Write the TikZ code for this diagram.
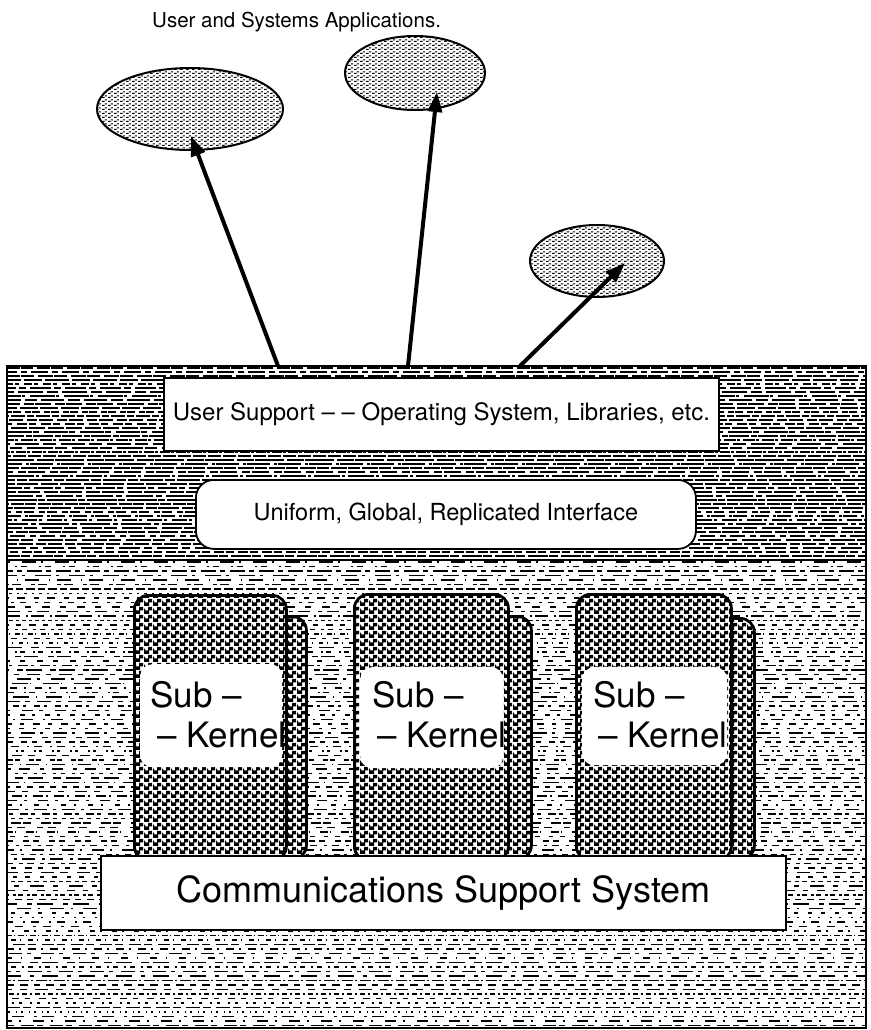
\documentclass[tikz,border=0pt]{standalone}
\usepackage{fontspec}
\setmainfont{TeX Gyre Heros}
\usetikzlibrary{arrows.meta,shapes.geometric,patterns}

% woven fill of the sub-kernel cards
\pgfdeclarepatternformonly{kernelweave}{\pgfqpoint{0pt}{0pt}}{\pgfqpoint{9pt}{8pt}}{\pgfqpoint{9pt}{8pt}}{%
  \pgfpathrectangle{\pgfqpoint{0pt}{0pt}}{\pgfqpoint{5.6pt}{4pt}}%
  \pgfpathrectangle{\pgfqpoint{4.5pt}{4pt}}{\pgfqpoint{4.5pt}{4pt}}%
  \pgfpathrectangle{\pgfqpoint{0pt}{4pt}}{\pgfqpoint{1.2pt}{2pt}}%
  \pgfusepath{fill}}
% stipple of the application blobs
\pgfdeclarepatternformonly{stipple}{\pgfqpoint{0pt}{0pt}}{\pgfqpoint{6pt}{4pt}}{\pgfqpoint{6pt}{4pt}}{%
  \pgfpathrectangle{\pgfqpoint{0pt}{0pt}}{\pgfqpoint{3pt}{1.3pt}}%
  \pgfpathrectangle{\pgfqpoint{3.4pt}{2pt}}{\pgfqpoint{2.4pt}{1.3pt}}%
  \pgfusepath{fill}}

\begin{document}
\begin{tikzpicture}[x=1pt,y=-1pt,
  appblob/.style={ellipse, draw, line width=2pt, inner sep=0pt,
    preaction={fill=white}, pattern=stipple, pattern color=black},
  layer/.style={inner sep=0pt, anchor=north west},
  plainbox/.style={draw, line width=1.8pt, fill=white, inner sep=0pt, anchor=north west},
  card/.style={draw, line width=2.8pt, rounded corners=14pt, inner sep=0pt,
    anchor=north west, preaction={fill=white}, pattern=kernelweave},
  cardlabel/.style={fill=white, rounded corners=12pt, inner sep=0pt, anchor=north west},
  kerneltext/.style={anchor=base west, inner sep=0pt, font=\fontsize{35}{40}\selectfont},
  uparrow/.style={line width=4pt, -{Triangle[length=20pt,width=14pt]}},
  bandstroke/.style={line width=2.6pt},
  basestroke/.style={line width=1.4pt},
]
\useasboundingbox (0,0) rectangle (870,1030);

% title
\node[anchor=west, inner sep=0pt, font=\fontsize{20.5}{24}\selectfont] (ttl) at (152,22)
  {User and Systems Applications.};

% the two layers
\node[layer, minimum width=859pt, minimum height=194pt] (band) at (7,366) {};
\node[layer, minimum width=859pt, minimum height=468pt] (base) at (7,560) {};

% dense hatching of the upper layer
\begin{scope}
  \clip (band.north west) rectangle (band.south east);
  \pgfmathsetseed{42}
  \foreach \k in {0,...,48}{
    \pgfmathtruncatemacro\da{random(6,30)}
    \pgfmathtruncatemacro\ga{random(1,4)}
    \pgfmathtruncatemacro\db{random(3,18)}
    \pgfmathtruncatemacro\gb{random(1,5)}
    \pgfmathtruncatemacro\ph{random(0,40)}
    \draw[bandstroke, dash pattern=on \da pt off \ga pt on \db pt off \gb pt, dash phase=\ph pt]
      (band.north west) ++(0,{2+4*\k}) -- ++(859,0);
  }
\end{scope}

% light hatching of the lower layer
\begin{scope}
  \clip (base.north west) rectangle (base.south east);
  \pgfmathsetseed{7}
  \foreach \k in {0,...,104}{
    \pgfmathtruncatemacro\da{random(2,16)}
    \pgfmathtruncatemacro\ga{random(2,10)}
    \pgfmathtruncatemacro\db{random(1,8)}
    \pgfmathtruncatemacro\gb{random(3,12)}
    \pgfmathtruncatemacro\ph{random(0,40)}
    \draw[basestroke, dash pattern=on \da pt off \ga pt on \db pt off \gb pt, dash phase=\ph pt]
      (base.north west) ++(0,{2+4.5*\k}) -- ++(859,0);
  }
\end{scope}

\draw[line width=2pt] (band.north west) rectangle (band.south east);
\draw[line width=2pt] (base.north west) rectangle (base.south east);

% boxes of the upper layer
\node[plainbox, minimum width=555pt, minimum height=73pt, font=\fontsize{24}{28}\selectfont]
  (usr) at (163,377) {User Support – – Operating System, Libraries, etc.};
\node[plainbox, rounded corners=18pt, minimum width=500pt, minimum height=69pt,
  font=\fontsize{23.5}{28}\selectfont]
  (ugr) at (195,479) {Uniform, Global, Replicated Interface};

% sub-kernel cards: back sheet, front sheet, label
\node[card, minimum width=150pt, minimum height=243pt] (k1b) at (155,615) {};
\node[card, minimum width=152pt, minimum height=265pt] (k1f) at (133,594) {};
\node[cardlabel, minimum width=142pt, minimum height=103pt] (l1) at (140,664) {};
\node[kerneltext] (s1a) at (150,707) {Sub –};
\node[kerneltext] (s1b) at (157,747) {– Kernel};

\node[card, minimum width=154pt, minimum height=243pt] (k2b) at (376,615) {};
\node[card, minimum width=154pt, minimum height=266pt] (k2f) at (353,593) {};
\node[cardlabel, minimum width=143pt, minimum height=101pt] (l2) at (360,667) {};
\node[kerneltext] (s2a) at (372,707) {Sub –};
\node[kerneltext] (s2b) at (377,747) {– Kernel};

\node[card, minimum width=155pt, minimum height=241pt] (k3b) at (598,617) {};
\node[card, minimum width=155pt, minimum height=266pt] (k3f) at (575,593) {};
\node[cardlabel, minimum width=145pt, minimum height=98pt] (l3) at (582,667) {};
\node[kerneltext] (s3a) at (593,707) {Sub –};
\node[kerneltext] (s3b) at (598,747) {– Kernel};

% communications box
\node[plainbox, line width=2.2pt, minimum width=685pt, minimum height=74pt,
  font=\fontsize{36}{40}\selectfont]
  (css) at (100,855) {Communications Support System};

% applications
\node[appblob, minimum width=186pt, minimum height=82pt] (app1) at (190,109) {};
\node[appblob, minimum width=140pt, minimum height=74pt] (app2) at (415,73) {};
\node[appblob, minimum width=134pt, minimum height=72pt] (app3) at (597,261) {};

\coordinate (t1) at (278,366);
\coordinate (t2) at (408,366);
\coordinate (t3) at (520,366);
\coordinate (h1) at (191,136);
\coordinate (h2) at (437,92);
\coordinate (h3) at (625,263);
\draw[uparrow] (t1) -- (h1);
\draw[uparrow] (t2) -- (h2);
\draw[uparrow] (t3) -- (h3);
\end{tikzpicture}
\end{document}
